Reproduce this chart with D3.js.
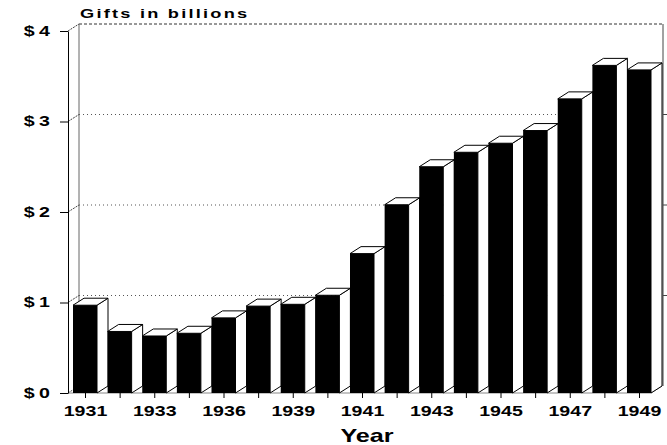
<!DOCTYPE html>
<html>
<head>
<meta charset="utf-8">
<script src="https://cdn.jsdelivr.net/npm/d3@7"></script>
<style>
    body { margin: 0; background: #fff; }
    svg text { font-family: "Liberation Sans", Arial, sans-serif; font-weight: bold; fill: #000; }
</style>
</head>
<body>
<div id="chart"></div>
<script>
// Datos
let years = ['1931', '1932', '1933', '1934', '1936', '1937', '1939', '1940', '1941',
             '1942', '1943', '1944', '1945', '1946', '1947', '1948', '1949'];
let gifts = [0.97, 0.68, 0.63, 0.66, 0.83, 0.96, 0.98, 1.08, 1.54,
             2.08, 2.50, 2.66, 2.76, 2.90, 3.25, 3.62, 3.57];
let yTicks = [0, 1, 2, 3, 4];
let yTickLabels = ['$0', '$1', '$2', '$3', '$4'];

let width = 667, height = 445;
let depth = {x: 11, y: -7};   // desplazamiento 3D
let barW = 24;
let SX = 1.4;                 // letra ancha

let svg = d3.select('#chart').append('svg')
    .attr('width', width)
    .attr('height', height);

let y = d3.scaleLinear().domain([0, 4]).range([393, 31]);
let x = d3.scalePoint().domain(years).range([85, 639]);

let x0 = 68, xRight = 663;
let y0 = y(0);

// Ensanchar textos (transform en vez de x/y)
function stretch(sel) {
    sel.each(function() {
        let t = d3.select(this);
        let tx = +t.attr('x') || 0, ty = +t.attr('y') || 0;
        t.attr('x', 0).attr('y', 0)
            .attr('transform', 'translate(' + tx + ',' + ty + ') scale(' + SX + ',1)');
    });
}

//Pared del fondo
let back = svg.append('g');
back.selectAll('.grid')
    .data(yTicks.slice(1, 4))
    .enter().append('line')
    .attr('x1', x0 + depth.x).attr('x2', xRight)
    .attr('y1', d => y(d) + depth.y).attr('y2', d => y(d) + depth.y)
    .attr('stroke', '#555').attr('stroke-width', 1)
    .attr('stroke-dasharray', '1,3');

back.append('line')
    .attr('x1', x0 + depth.x).attr('x2', xRight)
    .attr('y1', y(4) + depth.y).attr('y2', y(4) + depth.y)
    .attr('stroke', '#333').attr('stroke-dasharray', '3,2');

back.append('line')
    .attr('x1', x0 + depth.x).attr('x2', xRight)
    .attr('y1', y0 + depth.y).attr('y2', y0 + depth.y)
    .attr('stroke', '#999').attr('stroke-dasharray', '1,3');

back.append('line')
    .attr('x1', x0 + depth.x).attr('x2', x0 + depth.x)
    .attr('y1', y0 + depth.y).attr('y2', y(4) + depth.y)
    .attr('stroke', '#666');

back.append('line')
    .attr('x1', xRight).attr('x2', xRight)
    .attr('y1', y0 + depth.y).attr('y2', y(4) + depth.y)
    .attr('stroke', '#444');

back.selectAll('.rtick')
    .data(yTicks.slice(1, 4))
    .enter().append('line')
    .attr('x1', xRight).attr('x2', xRight + 5)
    .attr('y1', d => y(d) + depth.y).attr('y2', d => y(d) + depth.y)
    .attr('stroke', '#444');

//Diagonales eje -> pared
back.selectAll('.diag')
    .data(yTicks)
    .enter().append('line')
    .attr('x1', x0).attr('x2', x0 + depth.x)
    .attr('y1', d => y(d)).attr('y2', d => y(d) + depth.y)
    .attr('stroke', '#444').attr('stroke-dasharray', '2,1');

//Suelo
let lastX = x(years[years.length - 1]) + barW / 2;
back.append('line')
    .attr('x1', x0).attr('x2', lastX)
    .attr('y1', y0).attr('y2', y0)
    .attr('stroke', '#888');
back.append('line')
    .attr('x1', lastX).attr('x2', lastX + depth.x)
    .attr('y1', y0).attr('y2', y0 + depth.y)
    .attr('stroke', '#888');

//Barras
let bars = svg.append('g').selectAll('g')
    .data(years.map((d, i) => ({year: d, value: gifts[i]})))
    .enter().append('g');

bars.append('path')
    .attr('d', function(d) {
        let l = x(d.year) - barW / 2, r = l + barW, t = y(d.value);
        return 'M' + r + ',' + t + 'L' + (r + depth.x) + ',' + (t + depth.y) +
            'L' + (r + depth.x) + ',' + (y0 + depth.y) + 'L' + r + ',' + y0 + 'Z';
    })
    .attr('fill', '#fff').attr('stroke', '#000').attr('stroke-width', 1);

bars.append('path')
    .attr('d', function(d) {
        let l = x(d.year) - barW / 2, r = l + barW, t = y(d.value);
        return 'M' + l + ',' + t + 'L' + (l + depth.x) + ',' + (t + depth.y) +
            'L' + (r + depth.x) + ',' + (t + depth.y) + 'L' + r + ',' + t + 'Z';
    })
    .attr('fill', '#fff').attr('stroke', '#000').attr('stroke-width', 1);

bars.append('rect')
    .attr('x', d => x(d.year) - barW / 2)
    .attr('y', d => y(d.value))
    .attr('width', barW)
    .attr('height', d => y0 - y(d.value))
    .attr('fill', '#000');

//Eje Y
let yAxis = svg.append('g')
    .attr('transform', 'translate(' + x0 + ',0)')
    .call(d3.axisLeft(y).tickValues(yTicks).tickSize(8).tickSizeOuter(0).tickPadding(6)
        .tickFormat((d, i) => yTickLabels[i]));
yAxis.select('.domain').attr('stroke', '#000');
yAxis.selectAll('.tick line').attr('stroke', '#000');
yAxis.selectAll('text')
    .style('font-size', '14px')
    .style('letter-spacing', '3px')
    .call(stretch);

//Eje X
let xAxis = svg.append('g')
    .attr('transform', 'translate(0,' + y0 + ')')
    .call(d3.axisBottom(x).tickSize(5).tickSizeOuter(0).tickPadding(8)
        .tickFormat((d, i) => i % 2 == 0 ? d : ''));
xAxis.select('.domain').remove();
xAxis.selectAll('.tick line').attr('stroke', '#000');
xAxis.selectAll('text')
    .style('font-size', '14px')
    .call(stretch);

//Títulos
svg.append('text')
    .attr('transform', 'translate(80,18) scale(' + SX + ',1)')
    .style('font-size', '13px')
    .style('letter-spacing', '1.6px')
    .text('Gifts in billions');

svg.append('text')
    .attr('transform', 'translate(367,442) scale(' + SX + ',1)')
    .attr('text-anchor', 'middle')
    .style('font-size', '18px')
    .text('Year');
</script>
</body>
</html>
